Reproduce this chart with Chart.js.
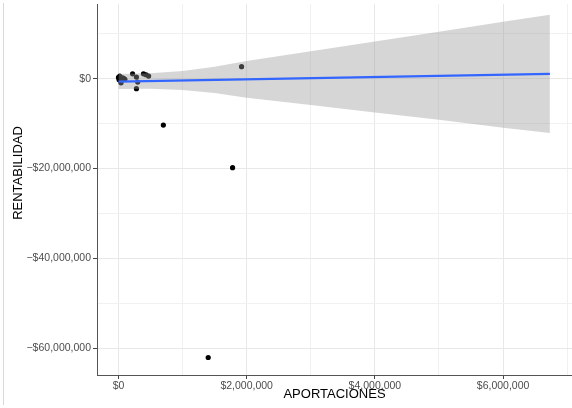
<!DOCTYPE html>
<html>
<head>
<meta charset="utf-8">
<title>Rentabilidad vs Aportaciones</title>
<script src="https://cdn.jsdelivr.net/npm/chart.js@4"></script>
<style>
  html, body { margin: 0; padding: 0; background: #fff; }
  canvas { display: block; }
</style>
</head>
<body>
<canvas id="chart" width="572" height="408" style="width:572px;height:408px"></canvas>
<script>
// puntos observados (pesos)
const aportaciones = [0, 10000, 20000, 40000, 60000, 80000, 100000, 220000, 280000, 300000, 280000, 390000, 430000, 470000, 700000, 1400000, 1780000, 1920000];
const rentabilidad = [300000, -200000, 600000, -900000, 200000, 100000, -100000, 1100000, 380000, -730000, -2200000, 1100000, 900000, 600000, -10300000, -62100000, -19800000, 2700000];

// recta ajustada (lm) e intervalo de confianza
const ajusteX = [0, 6730000];
const ajusteY = [-620000, 1100000];
const bandaX = [0, 500000, 1000000, 1500000, 2000000, 3000000, 4000000, 5000000, 6000000, 6730000];
const bandaSup = [1050000, 1240000, 1750000, 2660000, 3990000, 6150000, 8300000, 10460000, 12720000, 14300000];
const bandaInf = [-2290000, -2220000, -2470000, -3140000, -4210000, -5850000, -7500000, -9140000, -10880000, -12100000];

// marcas de los ejes
const ticksX = [0, 1000000, 2000000, 3000000, 4000000, 5000000, 6000000, 7000000];
const ticksY = [-60000000, -50000000, -40000000, -30000000, -20000000, -10000000, 0, 10000000];

const pares = (xs, ys) => xs.map((x, i) => ({ x: x, y: ys[i] }));
const esMayorX = v => v % 2000000 === 0;
const esMayorY = v => v % 20000000 === 0;
const pesos = v => (v < 0 ? '\u2212$' : '$') + Math.abs(v).toLocaleString('en-US');

const fuenteTicks = { family: "'Liberation Sans', Arial, sans-serif", size: 10.5 };

// el panel llega hasta el borde derecho del lienzo
const panelCompleto = {
  id: 'panelCompleto',
  afterLayout(chart) {
    const area = chart.chartArea;
    area.right = chart.width;
    area.width = area.right - area.left;
    const x = chart.scales.x;
    x.right = chart.width;
    x.width = x.right - x.left;
    x.configure();
  }
};

// titulos de los ejes y borde izquierdo
const titulos = {
  id: 'titulos',
  afterDraw(chart) {
    const ctx = chart.ctx;
    ctx.save();
    ctx.strokeStyle = '#d9d9d9';
    ctx.lineWidth = 1;
    ctx.beginPath();
    ctx.moveTo(3.5, 3);
    ctx.lineTo(3.5, 405);
    ctx.stroke();

    ctx.fillStyle = '#000';
    ctx.font = "13px 'Liberation Sans', Arial, sans-serif";
    ctx.textAlign = 'center';
    ctx.textBaseline = 'alphabetic';
    const area = chart.chartArea;
    ctx.fillText('APORTACIONES', (area.left + area.right) / 2, 398);
    ctx.translate(22, 173);
    ctx.rotate(-Math.PI / 2);
    ctx.fillText('RENTABILIDAD', 0, 0);
    ctx.restore();
  }
};

new Chart(document.getElementById('chart'), {
  type: 'scatter',
  data: {
    datasets: [
      {
        type: 'line',
        data: pares(ajusteX, ajusteY),
        borderColor: '#3366FF',
        borderWidth: 2.2,
        pointRadius: 0,
        fill: false,
        order: 0
      },
      {
        type: 'line',
        data: pares(bandaX, bandaSup),
        borderWidth: 0,
        borderColor: 'rgba(0,0,0,0)',
        backgroundColor: 'rgba(153,153,153,0.4)',
        pointRadius: 0,
        fill: '+1',
        order: 1
      },
      {
        type: 'line',
        data: pares(bandaX, bandaInf),
        borderWidth: 0,
        borderColor: 'rgba(0,0,0,0)',
        pointRadius: 0,
        fill: false,
        order: 2
      },
      {
        data: pares(aportaciones, rentabilidad),
        backgroundColor: '#000',
        borderWidth: 0,
        pointRadius: 2.6,
        order: 3
      }
    ]
  },
  options: {
    responsive: false,
    animation: false,
    layout: { padding: { top: 3, right: 0, left: 0, bottom: 0 } },
    plugins: {
      legend: { display: false },
      tooltip: { enabled: false }
    },
    scales: {
      x: {
        type: 'linear',
        min: -335000,
        max: 7075000,
        afterFit: s => { s.height = 33; s.paddingLeft = 0; s.paddingRight = 0; },
        afterBuildTicks: s => { s.ticks = ticksX.map(v => ({ value: v })); },
        border: { display: true, color: '#555', width: 1 },
        grid: {
          color: c => (c.tick && esMayorX(c.tick.value)) ? '#e8e8e8' : '#f1f1f1',
          lineWidth: 1,
          tickLength: 4,
          tickColor: c => (c.tick && esMayorX(c.tick.value)) ? '#444' : 'rgba(0,0,0,0)'
        },
        ticks: {
          autoSkip: false,
          maxRotation: 0,
          padding: 1,
          color: '#4d4d4d',
          font: fuenteTicks,
          callback: v => esMayorX(v) ? pesos(v) : ''
        }
      },
      y: {
        type: 'linear',
        min: -66000000,
        max: 16670000,
        afterFit: s => { s.width = 97; s.paddingTop = 0; s.paddingBottom = 0; },
        afterBuildTicks: s => { s.ticks = ticksY.map(v => ({ value: v })); },
        border: { display: true, color: '#555', width: 1 },
        grid: {
          color: c => (c.tick && esMayorY(c.tick.value)) ? '#e8e8e8' : '#f1f1f1',
          lineWidth: 1,
          tickLength: 4,
          tickColor: c => (c.tick && esMayorY(c.tick.value)) ? '#444' : 'rgba(0,0,0,0)'
        },
        ticks: {
          autoSkip: false,
          padding: 2,
          color: '#4d4d4d',
          font: fuenteTicks,
          callback: v => esMayorY(v) ? pesos(v) : ''
        }
      }
    }
  },
  plugins: [panelCompleto, titulos]
});
</script>
</body>
</html>
